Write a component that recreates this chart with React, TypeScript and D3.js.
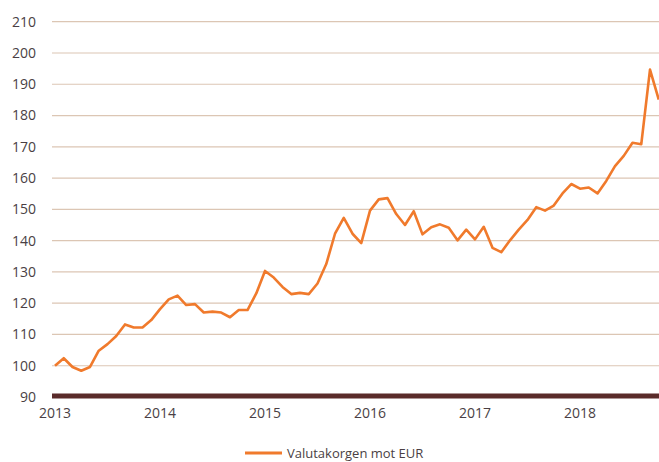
import React from "react";
import * as d3 from "d3";

const values: number[] = [
  100, 102.4, 99.6, 98.4, 99.6, 104.8, 106.9, 109.5, 113.2, 112.2, 112.2, 114.6,
  118.1, 121.2, 122.4, 119.4, 119.7, 117, 117.3, 117, 115.5, 117.8, 117.8, 123.1,
  130.3, 128.2, 125.2, 122.9, 123.3, 122.9, 126.3, 132.5, 142.2, 147.3, 142.2, 139.2,
  149.6, 153.2, 153.6, 148.5, 145, 149.4, 142, 144.3, 145.2, 144.1, 140.1, 143.5,
  140.4, 144.4, 137.7, 136.3, 140.1, 143.5, 146.6, 150.7, 149.6, 151.2, 155.1, 158.1,
  156.6, 157, 155.1, 159.1, 163.8, 167.1, 171.3, 170.8, 194.7, 185.1,
];
const startYear = 2013;
const yearLabels: string[] = ["2013", "2014", "2015", "2016", "2017", "2018"];
const yTicks: number[] = [90, 100, 110, 120, 130, 140, 150, 160, 170, 180, 190, 200, 210];
const seriesName = "Valutakorgen mot EUR";

const W = 659;
const H = 462;
const FONT = "'Open Sans', sans-serif";

export default function App() {
  const x = d3.scaleLinear().domain([0, 69]).range([55, 658.75]);
  const y = d3.scaleLinear().domain([90, 210]).range([397, 21.7]);
  const line = d3
    .line<number>()
    .x((_, i) => x(i))
    .y((d) => y(d));

  return (
    <svg
      width={W}
      height={H}
      style={{ position: "absolute", left: 0, top: 0, background: "#fff" }}
    >
      {yTicks.slice(1).map((t) => (
        <line
          key={t}
          x1={52}
          x2={W}
          y1={y(t)}
          y2={y(t)}
          stroke="#dcc6b4"
          strokeWidth={1.2}
        />
      ))}
      {yTicks.map((t) => (
        <text
          key={"l" + t}
          x={36}
          y={y(t)}
          dy="0.35em"
          textAnchor="end"
          fontFamily={FONT}
          fontSize={14}
          fill="#4a3f44"
        >
          {t}
        </text>
      ))}
      <line x1={52} x2={W} y1={396} y2={396} stroke="#5a2b2a" strokeWidth={5} />
      {yearLabels.map((lab) => (
        <text
          key={lab}
          x={x((Number(lab) - startYear) * 12)}
          y={413}
          dy="0.35em"
          textAnchor="middle"
          fontFamily={FONT}
          fontSize={14}
          fill="#4a3f44"
        >
          {lab}
        </text>
      ))}
      <path
        d={line(values) || ""}
        fill="none"
        stroke="#f07a2c"
        strokeWidth={2.6}
        strokeLinejoin="round"
      />
      <line x1={245} x2={282} y1={453} y2={453} stroke="#f07a2c" strokeWidth={3} />
      <text
        x={287}
        y={453}
        dy="0.35em"
        fontFamily={FONT}
        fontSize={13}
        fill="#4a3f44"
      >
        {seriesName}
      </text>
    </svg>
  );
}
